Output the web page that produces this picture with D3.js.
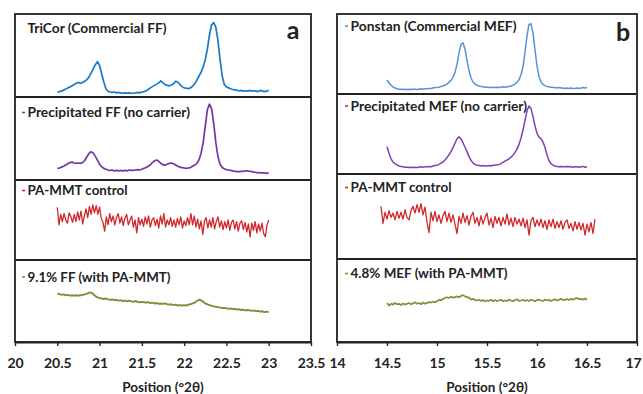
<!DOCTYPE html>
<html><head><meta charset="utf-8">
<script src="https://cdn.jsdelivr.net/npm/d3@7"></script>
<style>
body{margin:0;background:#fff}
svg{display:block}
text{font-family:Lato,'Open Sans',sans-serif;font-weight:700;fill:#222}
</style>
</head><body>
<svg id="c" width="643" height="394"></svg>
<script>
// ---------- data ----------
const ffTicks = [20, 20.5, 21, 21.5, 22, 22.5, 23, 23.5];
const mefTicks = [14, 14.5, 15, 15.5, 16, 16.5, 17];
const axisTitle = "Position (°2θ)";

const ffLabels = ["TriCor (Commercial FF)", "Precipitated FF (no carrier)", "PA-MMT control", "9.1% FF (with PA-MMT)"];
const mefLabels = ["Ponstan (Commercial MEF)", "Precipitated MEF (no carrier)", "PA-MMT control", "4.8% MEF (with PA-MMT)"];

// scan starts / steps (°2θ)
const ffScan = {start: 20.5, step: 0.025};
const ffNoisyScan = {start: 20.5, step: 0.02};
const mefScan = {start: 14.5, step: 0.02};
const mefNoisyScan = {start: 14.44, step: 0.02};

// relative intensities (0–100 within each strip)
const tricor = [
 6,6.5,7,8.5,9.5,11,12,13.5,15,16.5,
 17.5,16.5,17.5,19,21,24,29,34,39,42.5,
 38,28,18,10,7,6,5.5,6,5,5.5,
 5,4.5,5,4.5,5,4.5,4.5,5,5.5,5,
 6,6.5,7.5,9,11,12.5,14,15.5,17,19.5,
 17,15,14,13.5,14.5,16,19,18,15,12.5,
 11,10.5,10,11,13,16,20,25,30,36,
 45,58,75,87,89.5,84,68,45,25,15,
 12,11,10,9,8.5,8,7.5,8,7,7.5,
 7,8,7,7.5,7,6.5,8,7,6.5,7,
 8];
const precipFF = [
 14,14.5,15.5,16.5,18,19.5,21,21.5,20.5,20,
 20.5,20,21,23.5,28,32,34,32.5,28.5,24,
 19,16,14,13,12,11.5,12,11,11.5,11,
 11.5,11,11.5,11,12,11.5,11.5,12,12.5,12,
 13,14,15,16.5,18,21,23,24,22.5,20,
 18.5,18,19,20,20.5,19.5,18,16.5,15.5,15,
 14.5,14,14.5,15,16.5,18,20,24,32,45,
 65,85,91.5,86,68,45,28,19,15,13.5,
 12.5,12,11.5,11,10.5,10,10,10.5,10.5,11,
 11,10.5,10,9.5,9,9,8.5,8.5,8.5,8,
 8.5];
const pammtFF = [
 66,44,57,48,58,50,46,59,54,47,
 57,48,60,50,61,45,55,64,53,67,
 57,69,59,68,57,66,52,47,36,54,
 44,58,48,55,44,53,58,46,54,43,
 52,57,44,50,55,41,50,34,53,44,
 51,42,54,45,55,41,50,53,43,51,
 40,55,45,58,41,50,44,53,42,50,
 41,52,44,54,40,49,43,53,44,58,
 44,55,41,51,39,49,32,48,53,40,
 50,41,53,39,48,54,41,49,38,48,
 40,50,37,47,50,39,48,36,46,49,
 38,47,35,45,29,46,37,48,34,45,
 36,46,33,29,44,50];
const ffWithClay = [
 59,58.5,57.5,58,57,57.5,56.5,57,56.5,57,
 56.5,57,57.5,58,59,60,60.5,58.5,56,54.5,
 53.5,53,52.5,53,52,51.5,52,51,51.5,50.5,
 51,50,50.5,49.5,50.5,49.5,49,50,49,48.5,
 49,48.5,48,48.5,47.5,48,47,47.5,46.5,47,
 46.5,47,46,45.5,46,45,45.5,44.5,45,44.5,
 45,44.5,45.5,46,47,48,50,51.5,51,49,
 47,46,45,44,43.5,43,42.5,42,41.5,41.5,
 41,40.5,41,40,40.5,39.5,40,39,39.5,38.5,
 39,38.5,38,38.5,37.5,38,37,37.5,36.5,37,
 36.5];
const ponstan = [
 17.5,14,11,9,7.5,6.5,6,6,5.5,6,
 5.5,6,5.5,6,6,5.5,6,6.5,6,6.5,
 6.5,7,7,7.5,8,8,8.5,9.5,10,11,
 12.5,14.5,17,21,27,37,51,62,64,56,
 42,29,20,15,12.5,11,10,9.5,9,8.5,
 8.5,8,8.5,8,8,8.5,8,8.5,9,8.5,
 9,9.5,10,11,12.5,14.5,18,24,34,52,
 73,87,88,76,55,35,22,15,12,10.5,
 9.5,9,8.5,8,8,7.5,8,7.5,7.5,7,
 7.5,7,7.5,7,7,7.5,7,7.5,8,7.5,
 8];
const precipMEF = [
 34,26,19,15,13,11.5,10,9.5,9,8.5,
 8.5,8,8.5,8,8.5,8,8.5,9,8.5,9,
 9,9.5,9,10,10.5,11,12,13.5,15,17.5,
 20.5,24,28,33,38.5,44,46.5,44,39,33.5,
 28,22,17,14,12,11,10.5,10,10.5,10,
 10,10.5,10,11,11,11.5,12,13,14.5,16,
 17.5,19,21,23.5,27,31,37,45,55,67,
 79,85,82,72,60,51,46,44,40,33,
 24,17,13,11,10,9.5,9,9.5,9,9,
 9.5,9,9,8.5,9,9,8.5,9,9.5,8.5,
 9];
const pammtMEF = [
 62,42,55,47,57,49,54,46,56,48,
 55,47,58,49,46,57,62,54,64,55,
 65,52,61,43,31,55,45,56,44,52,
 42,51,56,44,54,43,52,41,30,50,
 42,54,43,51,40,50,55,42,49,39,
 51,41,49,54,40,48,37,50,42,49,
 39,49,41,53,40,48,38,49,41,47,
 39,48,37,46,28,45,49,38,46,39,
 47,37,45,35,46,38,47,36,44,37,
 45,35,43,46,36,42,33,44,35,43,
 34,42,28,41,32,43,30,47];
const mefWithClay = [
 47,44,46,45,47,45.5,46,44.5,46.5,45,
 46,47,45.5,46.5,48,46,47,45.5,47.5,46,
 47,48,47.5,48.5,48,49,51,50,52,53,
 54,53,54.5,53.5,54,55,54,55.5,56.5,55,
 54,53.5,51,52,50.5,50,51,49.5,50.5,49,
 50,49.5,51,49,50.5,49.5,50,51,49,50,
 49.5,51,50,49,50.5,51.5,49.5,50,51,49.5,
 50.5,49.5,51,50,49,50.5,51,50,49.5,51,
 50,51,49.5,50.5,51.5,50,51,52,50.5,51,
 51.5,50.5,52,51,52.5,53,51.5,52,51,52.5,
 51];

const colors = {tricor:"#1a78c8", precipFF:"#7436a6", red:"#d0282c", green:"#77933c", ponstan:"#5594d6", precipMEF:"#7d3fb4"};

// ---------- layout ----------
const svg = d3.select("#c");
const panels = [
  {x0:15, x1:311, domain:[20,23.5], ticks:ffTicks, rows:[14,97,180,260,342], letter:"a", letterX:293, letterY:39,
   labels:ffLabels, labelX:27.5, labelYs:[28,112.5,190.5,277], labelW:[139,162.5,100,143], dash:[false,true,true,true],
   series:[
     {v:tricor, scan:ffScan, c:colors.tricor, w:1.7},
     {v:precipFF, scan:ffScan, c:colors.precipFF, w:1.7},
     {v:pammtFF, scan:ffNoisyScan, c:colors.red, w:1.3},
     {v:ffWithClay, scan:ffScan, c:colors.green, w:1.9}]},
  {x0:337, x1:637, domain:[14,17], ticks:mefTicks, rows:[14,94,174,259,342], letter:"b", letterX:623, letterY:41,
   labels:mefLabels, labelX:350.5, labelYs:[26,106,187.5,273.5], labelW:[166,176.5,101,157], dash:[true,true,true,true],
   series:[
     {v:ponstan, scan:mefScan, c:colors.ponstan, w:1.5},
     {v:precipMEF, scan:mefScan, c:colors.precipMEF, w:1.5},
     {v:pammtMEF, scan:mefNoisyScan, c:colors.red, w:1.3},
     {v:mefWithClay, scan:mefScan, c:colors.green, w:1.7}]}
];

panels.forEach(p => {
  const x = d3.scaleLinear().domain(p.domain).range([p.x0, p.x1]);
  const g = svg.append("g");
  p.series.forEach((s, i) => {
    const y = d3.scaleLinear().domain([0,100]).range([p.rows[i+1], p.rows[i]]);
    const line = d3.line().x((d,k) => x(s.scan.start + k*s.scan.step)).y(d => y(d));
    g.append("path").attr("d", line(s.v)).attr("fill","none").attr("stroke", s.c)
      .attr("stroke-width", s.w).attr("stroke-linejoin","round");
    const ly = p.labelYs[i];
    if (p.dash[i]) {
      g.append("line").attr("x1", p.labelX-5.5).attr("x2", p.labelX-2.5).attr("y1", ly).attr("y2", ly)
        .attr("stroke", s.c).attr("stroke-width", 1.6);
    }
    g.append("text").attr("x", p.labelX).attr("y", ly+4.6).attr("font-size", 13)
      .attr("textLength", p.labelW[i]).attr("lengthAdjust","spacingAndGlyphs").text(p.labels[i]);
  });
  g.append("rect").attr("x", p.x0).attr("y", p.rows[0]).attr("width", p.x1-p.x0).attr("height", p.rows[4]-p.rows[0])
    .attr("fill","none").attr("stroke","#222").attr("stroke-width",1.8);
  [1,2,3].forEach(r => g.append("line").attr("x1",p.x0).attr("x2",p.x1).attr("y1",p.rows[r]).attr("y2",p.rows[r])
    .attr("stroke","#222").attr("stroke-width",1.8));
  const ax = g.append("g").attr("transform", `translate(0,${p.rows[4]})`)
    .call(d3.axisBottom(x).tickValues(p.ticks).tickFormat(d => String(d)).tickSize(4).tickSizeOuter(0).tickPadding(12));
  ax.select(".domain").attr("stroke","#222").attr("stroke-width",1.8);
  ax.selectAll(".tick line").attr("stroke","#222").attr("stroke-width",1.4);
  ax.selectAll(".tick text").attr("font-size",14).attr("font-family","Lato,'Open Sans',sans-serif").attr("font-weight",700).attr("fill","#222")
    .attr("dx", d => (x(d) > 630 ? -4 : 0));
  g.append("text").attr("x",(p.x0+p.x1)/2).attr("y",391.5).attr("text-anchor","middle").attr("font-size",13.5).text(axisTitle);
  g.append("text").attr("x",p.letterX).attr("y",p.letterY).attr("text-anchor","middle").attr("font-size",25).text(p.letter);
});
</script>
</body></html>
